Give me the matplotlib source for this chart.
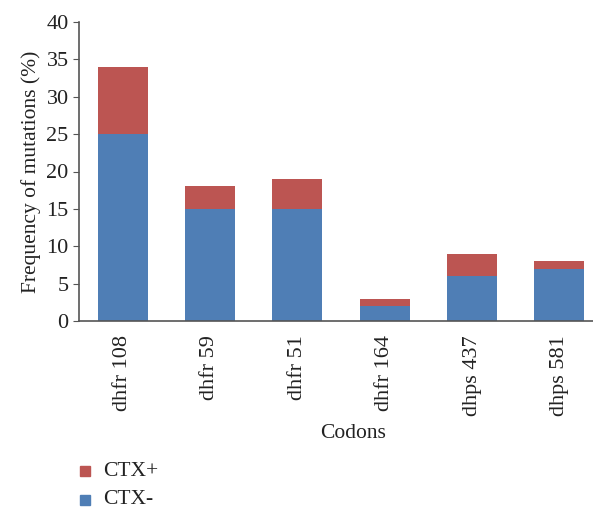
import numpy as np
import matplotlib.pyplot as plt
from matplotlib.patches import Rectangle

codons = ['dhfr 108', 'dhfr 59', 'dhfr 51', 'dhfr 164', 'dhps 437', 'dhps 581']
ctx_minus = [25, 15, 15, 2, 6, 7]
ctx_plus = [9, 3, 4, 1, 3, 1]
series = ['CTX+', 'CTX-']

blue = '#4F7EB5'
red = '#BC5552'

plt.rcParams['font.family'] = ['Liberation Serif', 'DejaVu Serif']

W, H = 593, 509
fig = plt.figure(figsize=(W / 100, H / 100), dpi=100)
ax = fig.add_axes([79 / W, 1 - 321 / H, 524 / W, 299 / H])

x = np.arange(len(codons))
ax.bar(x, ctx_minus, width=0.57, color=blue)
ax.bar(x, ctx_plus, width=0.57, bottom=ctx_minus, color=red)

ax.set_xlim(-0.5, 5.5)
ax.set_ylim(0, 40)
ax.set_yticks(range(0, 41, 5))
ax.set_xticks(x)
ax.set_xticklabels(codons, rotation=90, fontsize=16, color='#222222')
ax.tick_params(axis='y', labelsize=16, length=4, color='#555555', labelcolor='#222222')
ax.tick_params(axis='x', length=0, pad=10)

for s in ['top', 'right']:
    ax.spines[s].set_visible(False)
for s in ['left', 'bottom']:
    ax.spines[s].set_color('#555555')
    ax.spines[s].set_linewidth(1.2)

ax.set_ylabel('Frequency of mutations (%)', fontsize=15.5, color='#222222', labelpad=4)
fig.text(353 / W, 1 - 434 / H, 'Codons', fontsize=15.5, color='#222222',
         ha='center', va='center')

# legend drawn by hand, CTX+ above CTX-
for i, (name, col) in enumerate(zip(series, [red, blue])):
    yc = 471 + 29 * i
    fig.add_artist(Rectangle((80 / W, 1 - (yc + 5) / H), 10 / W, 10 / H,
                             transform=fig.transFigure, color=col))
    fig.text(103 / W, 1 - yc / H, name, fontsize=15.5, color='#222222',
             ha='left', va='center')

fig.savefig('out.png', dpi=100)
